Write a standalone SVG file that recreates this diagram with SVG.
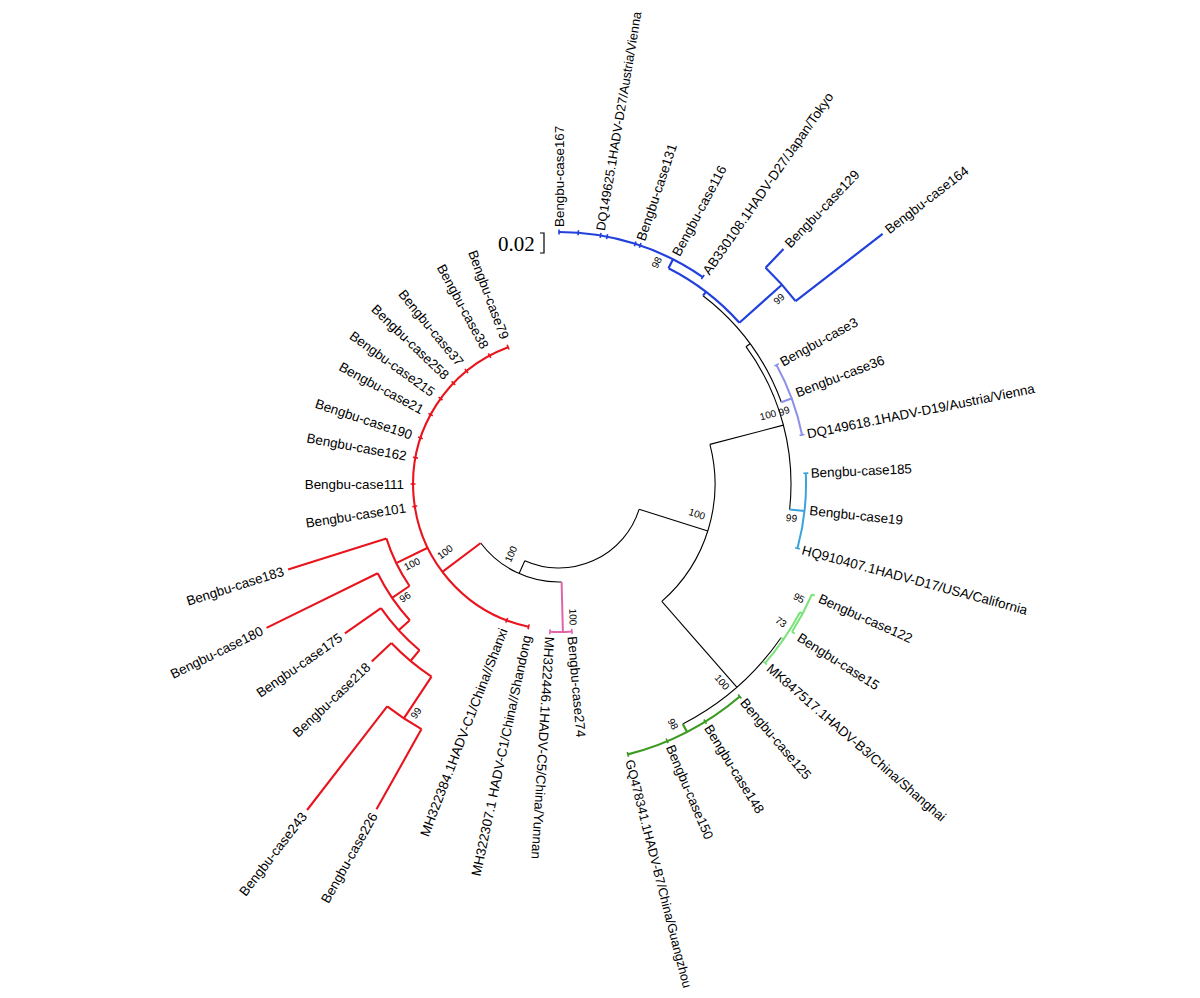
<svg xmlns="http://www.w3.org/2000/svg" width="1200" height="998" viewBox="0 0 1200 998">
<style>
.k{fill:none;stroke:#000;stroke-width:1.1}
.bl{fill:none;stroke:#2140dc;stroke-width:2.2}
.lv{fill:none;stroke:#8e90e8;stroke-width:2}
.cy{fill:none;stroke:#3aa3dc;stroke-width:2}
.lg{fill:none;stroke:#7ce37a;stroke-width:2}
.dg{fill:none;stroke:#3c9a22;stroke-width:2.2}
.pk{fill:none;stroke:#e064a8;stroke-width:2}
.rd{fill:none;stroke:#e8141e;stroke-width:2.1}
.tk{stroke-width:1.6}
text{font-family:"Liberation Sans",Arial,sans-serif;font-size:13.4px;fill:#000}
.e{text-anchor:end}
.sm{font-size:12.8px}
.bs{font-size:10px;text-anchor:middle}
.sc{font-family:"Liberation Serif","Times New Roman",serif;font-size:21px}
</style>
<rect width="1200" height="998" fill="#fff"/>
<g id="scale">
<text class="sc" x="498" y="251">0.02</text>
<path d="M540,233 H544 V253 H540" fill="none" stroke="#000" stroke-width="1.2"/>
</g>
<g id="connectors">
<path class="k" d="M639.1,509.3 A84,84 0 0 1 524.8,560.7"/>
<path class="k" d="M639.1,509.3 L707.8,530.9"/>
<path class="k" d="M709.9,444.4 A156,156 0 0 1 661.8,601.4"/>
<path class="k" d="M709.9,444.4 L783.4,425.1"/>
<path class="k" d="M746.0,346.7 A232,232 0 0 1 789.6,509.5"/>
<path class="k" d="M746.0,346.7 L750.0,343.7"/>
<path class="k" d="M703.0,295.7 A237,237 0 0 1 781.4,402.2"/>
<path class="k" d="M661.8,601.4 L736.8,687.1"/>
<path class="k" d="M781.0,637.7 A270,270 0 0 1 682.8,723.9"/>
<path class="k" d="M524.8,560.7 L519.1,573.5"/>
<path class="k" d="M561.6,582.0 A98,98 0 0 1 480.7,543.0"/>
<path class="cy" d="M789.6,509.5 L804.5,511.1 M805.8,473.2 A247,247 0 0 1 797.5,548.3"/>
<path class="cy tk" d="M803.3,473.3 L808.3,473.1 M795.1,547.7 L799.9,549.0"/>
<path class="lv" d="M781.4,402.2 L792.7,398.0 M776.5,364.9 A248,248 0 0 1 802.1,435.0"/>
<path class="lv tk" d="M774.3,366.1 L778.7,363.7 M799.6,435.4 L804.5,434.5"/>
<path class="bl" d="M703.0,295.7 L706.0,291.8 M668.5,268.2 A242,242 0 0 1 739.4,322.7 M668.5,268.2 L673.0,259.3 M559,232 A252,252 0 0 1 702.8,277.1 M739.4,322.7 L781.9,284.7 M765.6,267.8 A299,299 0 0 1 795.6,301.2 M765.6,267.8 L783.5,249.0 M795.6,301.2 L882.6,233.9"/>
<path class="bl tk" d="M559,229.5 L559,234.5 M578.1,235.2 L578.5,230.2 M600.2,237.9 L601.0,233.0 M606.6,239.1 L607.6,234.2 M634.4,246.2 L636.0,241.4 M639.4,247.8 L641.0,243.1 M701.4,279.1 L704.2,275.0"/>
<path class="lg" d="M781.0,637.7 L783.4,639.4 M800.0,612.2 A273,273 0 0 1 765.0,663.1 M800.0,612.2 L802.7,613.6 M811.9,594.5 A276,276 0 0 1 792.0,631.9 M811.9,594.5 L814.7,595.7 M792.0,631.9 L794.6,633.5"/>
<path class="lg tk" d="M763.1,661.4 L766.9,664.7"/>
<path class="dg" d="M682.8,723.9 L687.0,731.9 M739.8,696.5 A279,279 0 0 1 627.9,754.4"/>
<path class="dg tk" d="M738.2,694.6 L741.4,698.4 M703.9,719.5 L706.5,723.8 M666.1,738.5 L668.1,743.1 M627.3,752.0 L628.5,756.8"/>
<path class="pk" d="M561.6,582.0 L562.9,632.0 M571.9,631.4 A148,148 0 0 1 550.0,631.7"/>
<path class="pk tk" d="M571.7,628.9 L572.1,633.9 M550.1,629.2 L549.8,634.2"/>
<path class="rd" d="M480.7,543.0 L442.4,571.9 M528.6,626.8 A146,146 0 0 1 508.1,347.2 M427.7,547.8 L396.2,563.1 M409.5,586.0 A181,181 0 0 1 386.4,538.4 M386.4,538.4 L288.1,569.4 M409.5,586.0 L392.1,597.8 M409.8,620.2 A202,202 0 0 1 377.7,573.2 M377.7,573.2 L266.5,627.9 M409.8,620.2 L398.7,630.3 M419.5,650.2 A217,217 0 0 1 381.0,608.1 M381.0,608.1 L344.9,633.3 M419.5,650.2 L410.5,661.0 M431.5,676.6 A231,231 0 0 1 391.4,643.0 M391.4,643.0 L371.8,661.6 M431.5,676.6 L403.9,718.3 M421.5,729.1 A281,281 0 0 1 387.2,706.3 M387.2,706.3 L307.1,810.0 M421.5,729.1 L376.5,809.3"/>
<path class="rd tk" d="M529.2,624.4 L528.1,629.2 M507.6,618.0 L505.8,622.6 M417.2,506.0 L412.3,506.7 M415.5,484 L410.5,484 M417.9,458.1 L412.9,457.2 M422.8,438.7 L418.1,437.1 M432.8,415.8 L428.4,413.4 M442.6,400.1 L438.6,397.1 M455.2,384.9 L451.6,381.4 M468.1,372.9 L464.9,369.1 M490.8,357.8 L488.4,353.4 M509.0,349.5 L507.2,344.8"/>
</g>
<g id="bootstrap">
<text class="bs" transform="translate(656.7,262.5) rotate(-63)" dy="0.35em">98</text>
<text class="bs" transform="translate(779,299) rotate(-42)" dy="0.35em">99</text>
<text class="bs" transform="translate(768,415) rotate(-15)" dy="0.35em">100</text>
<text class="bs" transform="translate(784,411) rotate(-20)" dy="0.35em">99</text>
<text class="bs" transform="translate(791.5,518) rotate(6)" dy="0.35em">99</text>
<text class="bs" transform="translate(697,514) rotate(17.5)" dy="0.35em">100</text>
<text class="bs" transform="translate(722,682) rotate(49)" dy="0.35em">100</text>
<text class="bs" transform="translate(673,724) rotate(63)" dy="0.35em">98</text>
<text class="bs" transform="translate(781,622) rotate(35)" dy="0.35em">73</text>
<text class="bs" transform="translate(799,598) rotate(28)" dy="0.35em">95</text>
<text class="bs" transform="translate(573,617) rotate(88.5)" dy="0.35em">100</text>
<text class="bs" transform="translate(511,554) rotate(-66)" dy="0.35em">100</text>
<text class="bs" transform="translate(445,552) rotate(-37)" dy="0.35em">100</text>
<text class="bs" transform="translate(412,564) rotate(-26)" dy="0.35em">100</text>
<text class="bs" transform="translate(405,597) rotate(-34)" dy="0.35em">96</text>
<text class="bs" transform="translate(416,713) rotate(-56.5)" dy="0.35em">99</text>
</g>
<g id="n167"><text transform="translate(559,227) rotate(-90)" dy="0.35em">Bengbu-case167</text></g>
<g id="nDQ149625"><text class="sm" transform="translate(600.4,230.5) rotate(-80.5)" dy="0.35em">DQ149625.1HADV-D27/Austria/Vienna</text></g>
<g id="n131"><text transform="translate(640.5,240.3) rotate(-71.5)" dy="0.35em">Bengbu-case131</text></g>
<g id="n116"><text transform="translate(675.7,255) rotate(-62)" dy="0.35em">Bengbu-case116</text></g>
<g id="nAB330108"><text transform="translate(705.7,273) rotate(-55.2)" dy="0.35em">AB330108.1HADV-D27/Japan/Tokyo</text></g>
<g id="n129"><text transform="translate(787,245.4) rotate(-46.3)" dy="0.35em">Bengbu-case129</text></g>
<g id="n164"><text transform="translate(886.6,230.8) rotate(-37.7)" dy="0.35em">Bengbu-case164</text></g>
<g id="n3"><text transform="translate(780.9,362.5) rotate(-28.7)" dy="0.35em">Bengbu-case3</text></g>
<g id="n36"><text transform="translate(796.1,393) rotate(-21)" dy="0.35em">Bengbu-case36</text></g>
<g id="nDQ149618"><text transform="translate(807,434) rotate(-11.4)" dy="0.35em">DQ149618.1HADV-D19/Austria/Vienna</text></g>
<g id="n185"><text transform="translate(810.7,473) rotate(-2.5)" dy="0.35em">Bengbu-case185</text></g>
<g id="n19"><text transform="translate(809.6,510.3) rotate(6)" dy="0.35em">Bengbu-case19</text></g>
<g id="nHQ910407"><text transform="translate(802.3,549.6) rotate(15.1)" dy="0.35em">HQ910407.1HADV-D17/USA/California</text></g>
<g id="n122"><text transform="translate(819.3,597.7) rotate(24)" dy="0.35em">Bengbu-case122</text></g>
<g id="n15"><text transform="translate(798.8,636.2) rotate(32.4)" dy="0.35em">Bengbu-case15</text></g>
<g id="nMK847517"><text transform="translate(768.8,666.4) rotate(41)" dy="0.35em">MK847517.1HADV-B3/China/Shanghai</text></g>
<g id="n125"><text transform="translate(743.1,700.3) rotate(49.6)" dy="0.35em">Bengbu-case125</text></g>
<g id="n148"><text transform="translate(707.8,725.9) rotate(58.4)" dy="0.35em">Bengbu-case148</text></g>
<g id="n150"><text transform="translate(670,745.4) rotate(67)" dy="0.35em">Bengbu-case150</text></g>
<g id="nGQ478341"><text class="sm" transform="translate(629.6,760) rotate(75.7)" dy="0.35em">GQ478341.1HADV-B7/China/Guangzhou</text></g>
<g id="n274"><text transform="translate(572.3,636.4) rotate(85)" dy="0.35em">Bengbu-case274</text></g>
<g id="nMH322446"><text transform="translate(549.7,636.7) rotate(93.5)" dy="0.35em">MH322446.1HADV-C5/China/Yunnan</text></g>
<g id="nMH322307"><text class="e" transform="translate(526.8,635.6) rotate(-78)" dy="0.35em">MH322307.1 HADV-C1/China//Shandong</text></g>
<g id="nMH322384"><text class="e" transform="translate(503.5,628.7) rotate(-69)" dy="0.35em">MH322384.1HADV-C1/China//Shanxi</text></g>
<g id="n101"><text class="e" transform="translate(405.8,507.7) rotate(-8.8)" dy="0.35em">Bengbu-case101</text></g>
<g id="n111"><text class="e" transform="translate(404,484) rotate(0)" dy="0.35em">Bengbu-case111</text></g>
<g id="n162"><text class="e" transform="translate(406.5,456) rotate(10.4)" dy="0.35em">Bengbu-case162</text></g>
<g id="n190"><text class="e" transform="translate(411.9,435.1) rotate(18.4)" dy="0.35em">Bengbu-case190</text></g>
<g id="n21"><text class="e" transform="translate(422.7,410.3) rotate(28.4)" dy="0.35em">Bengbu-case21</text></g>
<g id="n215"><text class="e" transform="translate(433.3,393.3) rotate(35.8)" dy="0.35em">Bengbu-case215</text></g>
<g id="n258"><text class="e" transform="translate(446.9,376.9) rotate(43.7)" dy="0.35em">Bengbu-case258</text></g>
<g id="n37"><text class="e" transform="translate(460.8,364.1) rotate(50.7)" dy="0.35em">Bengbu-case37</text></g>
<g id="n38"><text class="e" transform="translate(485.3,347.7) rotate(61.6)" dy="0.35em">Bengbu-case38</text></g>
<g id="n79"><text class="e" transform="translate(505,338.7) rotate(69.6)" dy="0.35em">Bengbu-case79</text></g>
<g id="n183"><text class="e" transform="translate(283.4,570.9) rotate(-17.5)" dy="0.35em">Bengbu-case183</text></g>
<g id="n180"><text class="e" transform="translate(262,630.1) rotate(-26.2)" dy="0.35em">Bengbu-case180</text></g>
<g id="n175"><text class="e" transform="translate(340.8,636.2) rotate(-34.9)" dy="0.35em">Bengbu-case175</text></g>
<g id="n218"><text class="e" transform="translate(368.2,665) rotate(-43.5)" dy="0.35em">Bengbu-case218</text></g>
<g id="n243"><text class="e" transform="translate(304,813.9) rotate(-52.3)" dy="0.35em">Bengbu-case243</text></g>
<g id="n226"><text class="e" transform="translate(374,813.7) rotate(-60.7)" dy="0.35em">Bengbu-case226</text></g>
</svg>
